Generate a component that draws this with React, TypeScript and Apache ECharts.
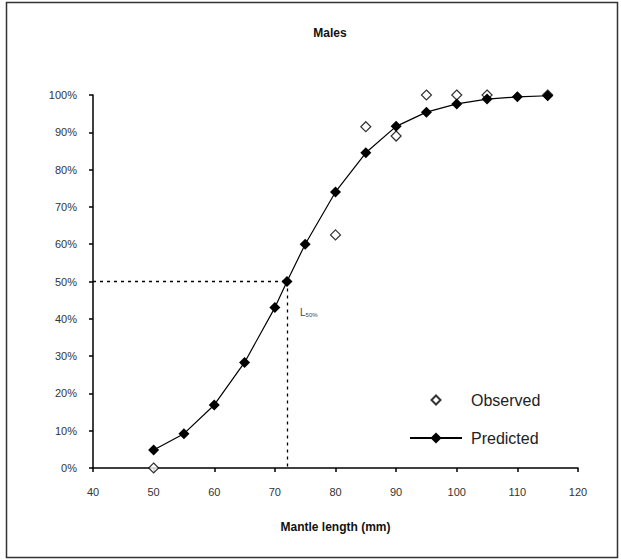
import React, { useEffect, useRef } from "react";
import * as echarts from "echarts";

const predictedX = [50, 55, 60, 65, 70, 72, 75, 80, 85, 90, 95, 100, 105, 110, 115];
const predictedY = [0.048, 0.092, 0.169, 0.283, 0.43, 0.5, 0.6, 0.74, 0.845, 0.916, 0.954, 0.976, 0.989, 0.995, 0.998];
const observedX = [50, 80, 85, 90, 95, 100, 105, 115];
const observedY = [0.0, 0.625, 0.915, 0.89, 1.0, 1.0, 1.0, 1.0];
const l50 = [72, 0.5];
const font = "'Liberation Sans', Arial, sans-serif";
const hollowDiamondIcon = "path://M0,-7L0,-7M0,-4.5L4.5,0L0,4.5L-4.5,0ZM0,7L0,7";

export default function App() {
  const ref = useRef<HTMLDivElement>(null);
  useEffect(() => {
    if (!ref.current) return;
    const chart = echarts.init(ref.current, null, { renderer: "svg" });
    chart.setOption({
      animation: false,
      backgroundColor: "#fff",
      title: {
        text: "Males",
        left: 325,
        top: 22,
        textAlign: "center",
        textStyle: { fontFamily: font, fontSize: 12, fontWeight: "bold", color: "#111" },
      },
      legend: {
        orient: "vertical",
        left: 404,
        top: 387,
        itemWidth: 52,
        itemHeight: 14,
        itemGap: 22,
        textStyle: { fontFamily: font, fontSize: 16, color: "#222", padding: [0, 0, 0, 4] },
        data: [{ name: "Observed", icon: hollowDiamondIcon }, { name: "Predicted" }],
      },
      grid: { left: 93, right: 43, top: 95, bottom: 92 },
      xAxis: {
        type: "value",
        min: 40,
        max: 120,
        interval: 10,
        name: "Mantle length (mm)",
        nameLocation: "middle",
        nameGap: 53,
        nameTextStyle: { fontFamily: font, fontSize: 12, fontWeight: "bold", color: "#111" },
        axisLine: { lineStyle: { color: "#000", width: 1.5 } },
        axisTick: { show: true, length: 4, inside: false, lineStyle: { color: "#000", width: 1.5 } },
        axisLabel: { fontFamily: font, fontSize: 11, color: "#333", margin: 18 },
        splitLine: { show: false },
      },
      yAxis: {
        type: "value",
        min: 0,
        max: 1,
        interval: 0.1,
        axisLine: { show: true, lineStyle: { color: "#000", width: 1.5 } },
        axisTick: { show: true, length: 4, lineStyle: { color: "#000", width: 1.5 } },
        axisLabel: {
          fontFamily: font,
          fontSize: 11,
          color: "#333",
          margin: 16,
          formatter: (v: number) => Math.round(v * 100) + "%",
        },
        splitLine: { show: false },
      },
      series: [
        {
          name: "Predicted",
          type: "line",
          data: predictedX.map((x, i) => [x, predictedY[i]]),
          symbol: "diamond",
          symbolSize: 11,
          itemStyle: { color: "#000" },
          lineStyle: { color: "#000", width: 1.2 },
          z: 3,
          markLine: {
            silent: true,
            symbol: ["none", "none"],
            label: { show: false },
            lineStyle: { color: "#000", type: [3, 4], width: 1.3 },
            data: [
              [{ coord: [40, l50[1]] }, { coord: [l50[0], l50[1]] }],
              [{ coord: [l50[0], l50[1]] }, { coord: [l50[0], 0] }],
            ],
          },
          markPoint: {
            symbol: "circle",
            symbolSize: 0,
            data: [{ coord: l50 }],
            label: {
              show: true,
              position: "right",
              offset: [8, 31],
              formatter: "{a|L}{b|50%}",
              rich: {
                a: { fontFamily: font, fontSize: 10, color: "#445" },
                b: { fontFamily: font, fontSize: 6, color: "#445", verticalAlign: "bottom", padding: [5, 0, 0, 0] },
              },
            },
          },
        },
        {
          name: "Observed",
          type: "scatter",
          data: observedX.map((x, i) => [x, observedY[i]]),
          symbol: "diamond",
          symbolSize: 10,
          symbolKeepAspect: true,
          itemStyle: { color: "#fff", borderColor: "#000", borderWidth: 1.2 },
          z: 2,
        },
      ],
      graphic: [
        {
          type: "rect",
          shape: { x: 6.5, y: 2.5, width: 611, height: 555 },
          style: { fill: "none", stroke: "#333", lineWidth: 1.5 },
          silent: true,
        },
      ],
    });
    return () => chart.dispose();
  }, []);
  return <div ref={ref} style={{ position: "absolute", left: 0, top: 0, width: 621, height: 560 }} />;
}
